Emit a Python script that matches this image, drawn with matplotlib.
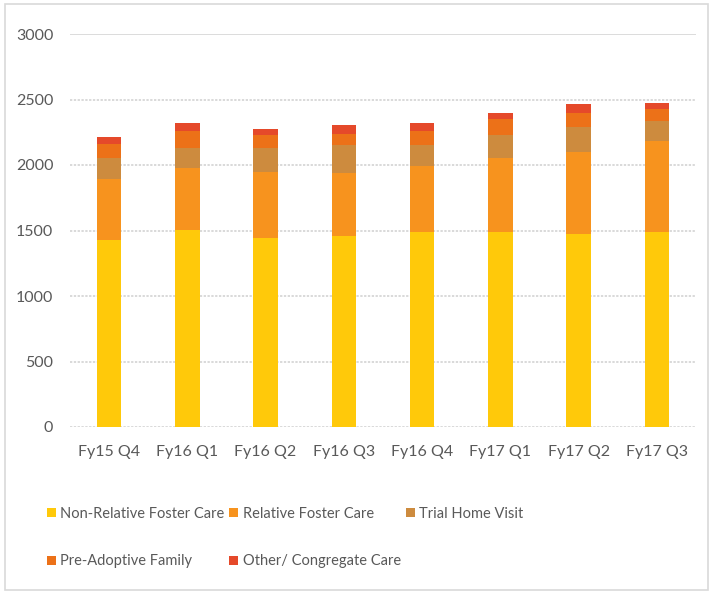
import matplotlib
matplotlib.use("Agg")
import matplotlib.pyplot as plt
from matplotlib.patches import Rectangle, Patch
import numpy as np

plt.rcParams['font.family'] = ['Lato', 'DejaVu Sans']

categories = ["Fy15 Q4", "Fy16 Q1", "Fy16 Q2", "Fy16 Q3", "Fy16 Q4", "Fy17 Q1", "Fy17 Q2", "Fy17 Q3"]
non_relative = [1431, 1507, 1444, 1459, 1490, 1490, 1474, 1490]
relative = [464, 467, 502, 482, 502, 563, 628, 691]
trial_home = [158, 158, 186, 209, 158, 173, 188, 155]
pre_adoptive = [110, 128, 94, 89, 110, 128, 107, 95]
other_congregate = [50, 63, 49, 69, 61, 46, 67, 46]

series_names = ["Non-Relative Foster Care", "Relative Foster Care", "Trial Home Visit",
                "Pre-Adoptive Family", "Other/ Congregate Care"]
series_values = [non_relative, relative, trial_home, pre_adoptive, other_congregate]
colors = ["#FFC90A", "#F7931E", "#CD8B3E", "#EC7118", "#E5492A"]
yticks = [0, 500, 1000, 1500, 2000, 2500, 3000]

W, H = 710, 592
fig = plt.figure(figsize=(W / 100, H / 100), dpi=100)
ax = fig.add_axes([70 / W, 1 - 427 / H, (696 - 70) / W, (427 - 34) / H])

x = np.arange(len(categories))
bottom = np.zeros(len(categories))
handles = []
for name, vals, c in zip(series_names, series_values, colors):
    vals = np.array(vals, dtype=float)
    ax.bar(x, vals, 0.31, bottom=bottom, color=c, edgecolor='none', zorder=3, label=name)
    bottom += vals
    handles.append(Patch(facecolor=c, edgecolor='none', label=name))

ax.set_xlim(-0.5, len(categories) - 0.5)
ax.set_ylim(0, 3000)
ax.set_yticks(yticks)
ax.set_yticklabels([str(t) for t in yticks])
ax.set_xticks(x)
ax.set_xticklabels(categories)
for t in yticks:
    if t == 3000:
        ax.axhline(t, color='#d9d9d9', lw=1.3, zorder=1)
    else:
        ax.axhline(t, color='#cfcfcf', lw=1.1, ls=(0, (1.5, 1)), zorder=1)
for s in ax.spines.values():
    s.set_visible(False)
ax.tick_params(axis='both', length=0, labelsize=11.5, colors='#595959')
ax.tick_params(axis='y', pad=12)
ax.tick_params(axis='x', pad=13)

order = [0, 3, 1, 4, 2]
leg = fig.legend([handles[i] for i in order], [series_names[i] for i in order],
                 ncol=3, loc='upper left', bbox_to_anchor=(44 / W, 1 - 504 / H),
                 frameon=False, fontsize=10.5, handlelength=0.6, handleheight=0.6,
                 handletextpad=0.3, columnspacing=0.35, labelspacing=2.3,
                 labelcolor='#595959', borderaxespad=0, borderpad=0.2)

fig.patches.append(Rectangle((5 / W, 0.003), 703 / W, 1 - 4 / H - 0.003,
                             transform=fig.transFigure, fill=False,
                             edgecolor='#d9d9d9', lw=1.2))

fig.savefig("out.png", dpi=100, facecolor='white')
